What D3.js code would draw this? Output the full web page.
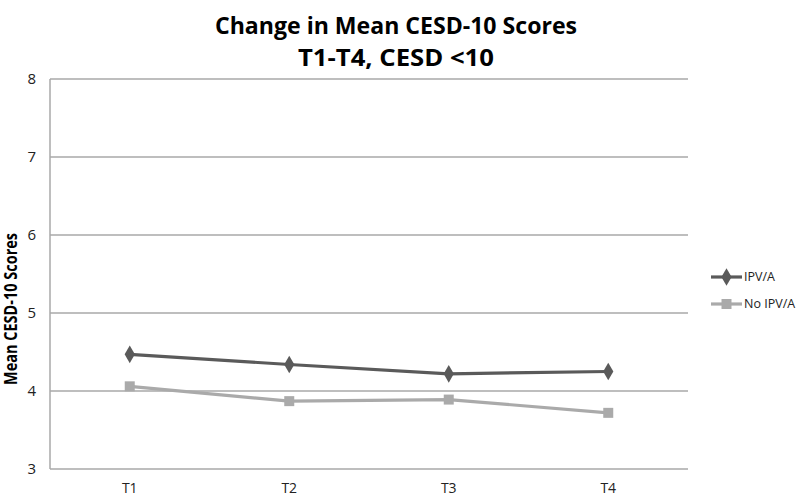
<!DOCTYPE html>
<html>
<head>
<meta charset="utf-8">
<script src="https://cdnjs.cloudflare.com/ajax/libs/d3/7.8.5/d3.min.js"></script>
<style>
  body { margin: 0; background: #fff; }
  text { font-family: "Liberation Sans Narrow", "Open Sans", "DejaVu Sans Condensed", sans-serif; }
</style>
</head>
<body>
<div id="chart"></div>
<script>
var times = ["T1", "T2", "T3", "T4"];
var ipvValues = [4.47, 4.34, 4.22, 4.25];
var noIpvValues = [4.06, 3.87, 3.89, 3.72];
var yTicks = [3, 4, 5, 6, 7, 8];
var seriesNames = ["IPV/A", "No IPV/A"];

var margin = {top: 79, right: 112, bottom: 30, left: 50};
var W = 800, H = 499;
var width = W - margin.left - margin.right;
var height = H - margin.top - margin.bottom;

var svg = d3.select("#chart").append("svg")
    .attr("width", W)
    .attr("height", H);

// titles
svg.append("text")
    .attr("x", 396).attr("y", 34)
    .attr("text-anchor", "middle")
    .attr("font-weight", "bold")
    .attr("font-size", 24)
    .attr("fill", "#000")
    .attr("textLength", 362).attr("lengthAdjust", "spacingAndGlyphs")
    .text("Change in Mean CESD-10 Scores");

svg.append("text")
    .attr("x", 396).attr("y", 66)
    .attr("text-anchor", "middle")
    .attr("font-weight", "bold")
    .attr("font-size", 24)
    .attr("fill", "#000")
    .attr("textLength", 196).attr("lengthAdjust", "spacingAndGlyphs")
    .text("T1-T4, CESD <10");

var g = svg.append("g")
    .attr("transform", "translate(" + margin.left + "," + margin.top + ")");

var x = d3.scaleBand().domain(times).range([0, width]);
var y = d3.scaleLinear().domain([3, 8]).range([height, 0]);

// gridlines
g.selectAll(".grid")
  .data(yTicks)
  .enter()
  .append("line")
  .attr("class", "grid")
  .attr("x1", 0).attr("x2", width)
  .attr("y1", d => y(d)).attr("y2", d => y(d))
  .attr("stroke", "#a9a9a9")
  .attr("stroke-width", 1.5);

g.append("line")
  .attr("x1", 0).attr("x2", 0)
  .attr("y1", 0).attr("y2", height)
  .attr("stroke", "#a9a9a9")
  .attr("stroke-width", 1.5);

// y axis
var yAxis = g.append("g")
  .call(d3.axisLeft(y).tickValues(yTicks).tickSize(0).tickPadding(14).tickFormat(d3.format("d")));
yAxis.select(".domain").remove();
yAxis.selectAll("text")
  .attr("font-size", 15)
  .attr("fill", "#222")
  .style("font-family", "'Open Sans', sans-serif");

// x axis
var xAxis = g.append("g")
  .attr("transform", "translate(0," + height + ")")
  .call(d3.axisBottom(x).tickSize(0).tickPadding(14));
xAxis.select(".domain").remove();
xAxis.selectAll("text")
  .attr("font-size", 14)
  .attr("fill", "#222")
  .style("font-family", "'Open Sans', sans-serif");

// y label
svg.append("text")
  .attr("transform", "translate(17,309) rotate(-90)")
  .attr("text-anchor", "middle")
  .attr("font-weight", "bold")
  .attr("font-size", 17)
  .attr("fill", "#000")
  .attr("textLength", 152).attr("lengthAdjust", "spacingAndGlyphs")
  .text("Mean CESD-10 Scores");

var line = d3.line()
  .x((d, i) => x(times[i]) + x.bandwidth() / 2)
  .y(d => y(d));

var diamond = d3.symbol().type(d3.symbolDiamond).size(90);
var square = d3.symbol().type(d3.symbolSquare).size(100);

var series = [
  {name: seriesNames[0], values: ipvValues, color: "#5a5a5a", sym: diamond},
  {name: seriesNames[1], values: noIpvValues, color: "#aaaaaa", sym: square}
];

series.forEach(function(s) {
  g.append("path")
    .datum(s.values)
    .attr("fill", "none")
    .attr("stroke", s.color)
    .attr("stroke-width", 3.2)
    .attr("d", line);

  g.selectAll(null)
    .data(s.values)
    .enter()
    .append("path")
    .attr("d", s.sym)
    .attr("fill", s.color)
    .attr("transform", (d, i) => "translate(" + (x(times[i]) + x.bandwidth() / 2) + "," + y(d) + ")");
});

// legend
var legend = svg.append("g").attr("transform", "translate(711,277)");
series.forEach(function(s, i) {
  var lg = legend.append("g").attr("transform", "translate(0," + (i * 27) + ")");
  lg.append("line")
    .attr("x1", 0).attr("x2", 31)
    .attr("stroke", s.color).attr("stroke-width", 3.2);
  lg.append("path")
    .attr("d", s.sym)
    .attr("fill", s.color)
    .attr("transform", "translate(15.5,0)");
  lg.append("text")
    .attr("x", 33).attr("dy", "0.35em")
    .attr("font-size", 12.5)
    .attr("fill", "#222")
    .style("font-family", "'Open Sans', sans-serif")
    .text(s.name);
});
</script>
</body>
</html>
